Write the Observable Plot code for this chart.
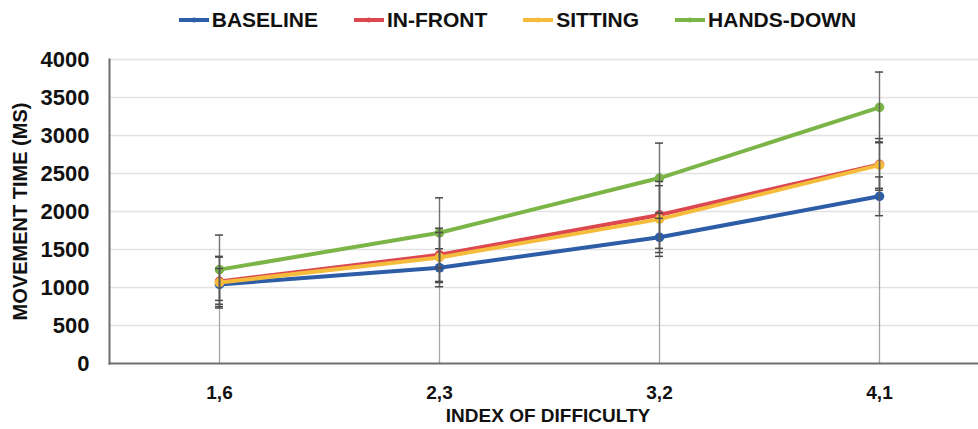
<!DOCTYPE html>
<html>
<head>
<meta charset="utf-8">
<script src="https://cdn.jsdelivr.net/npm/d3@7"></script>
<script src="https://cdn.jsdelivr.net/npm/@observablehq/plot@0.6"></script>
<style>
  body { margin: 0; background: #fff; font-family: "Liberation Sans", Arial, sans-serif; }
  #legend { height: 40px; display: flex; justify-content: center; align-items: center; gap: 35px;
            font-weight: bold; font-size: 21px; color: #111; padding-left: 56px; box-sizing: border-box; width: 978px; }
  .item { display: flex; align-items: center; gap: 2px; }
  svg { display: block; }
</style>
</head>
<body>
<div id="legend"></div>
<div id="chart"></div>
<script>
// ---- data ----
const categories = ["1,6", "2,3", "3,2", "4,1"];
const seriesNames = ["BASELINE", "IN-FRONT", "SITTING", "HANDS-DOWN"];
const seriesColors = ["#2e5da8", "#dc4750", "#f5bc3b", "#7cb547"];

const baseline   = [1040, 1260, 1660, 2200];
const baselineSD = [210, 250, 250, 255];
const inFront    = [1080, 1430, 1955, 2620];
const inFrontSD  = [330, 350, 440, 340];
const sitting    = [1065, 1395, 1900, 2610];
const sittingSD  = [335, 330, 440, 305];
const handsDown  = [1235, 1720, 2440, 3370];
const handsDownSD= [455, 460, 460, 465];

const yTicks = [0, 500, 1000, 1500, 2000, 2500, 3000, 3500, 4000];
const xTitle = "INDEX OF DIFFICULTY";
const yTitle = "MOVEMENT TIME (MS)";

// ---- build table ----
const allMeans = [baseline, inFront, sitting, handsDown];
const allSD = [baselineSD, inFrontSD, sittingSD, handsDownSD];
const rows = [];
seriesNames.forEach((s, si) => {
  categories.forEach((c, ci) => {
    rows.push({series: s, cat: c, value: allMeans[si][ci], sd: allSD[si][ci]});
  });
});
const dropTop = categories.map((c, ci) => ({cat: c, top: d3.max(allMeans, m => m[ci])}));

// ---- legend ----
const legend = document.getElementById("legend");
seriesNames.forEach((s, i) => {
  const it = document.createElement("div");
  it.className = "item";
  it.innerHTML = `<svg width="32" height="12"><line x1="1" y1="6" x2="31" y2="6" stroke="${seriesColors[i]}" stroke-width="4"/><circle cx="16" cy="6" r="2.5" fill="${seriesColors[i]}"/></svg><span>${s}</span>`;
  legend.appendChild(it);
});

// ---- chart ----
const seriesMarks = [];
seriesNames.forEach((s, i) => {
  const data = rows.filter(r => r.series === s);
  seriesMarks.push(Plot.line(data, {x: "cat", y: "value", stroke: seriesColors[i], strokeWidth: 4}));
  seriesMarks.push(Plot.dot(data, {x: "cat", y: "value", fill: seriesColors[i], r: 4.8}));
});

const capInset = 106;
const chart = Plot.plot({
  width: 978,
  height: 389,
  marginLeft: 109,
  marginRight: 0,
  marginTop: 19,
  marginBottom: 66,
  style: {fontFamily: "'Liberation Sans', Arial, sans-serif", fontWeight: "bold", color: "#111", background: "#fff"},
  x: {type: "band", domain: categories, range: [109, 989], padding: 0},
  y: {domain: [0, 4000]},
  marks: [
    Plot.ruleY(yTicks.filter(d => d > 0), {stroke: "#e2e2e2", strokeWidth: 1.5}),
    Plot.ruleX(dropTop, {x: "cat", y1: 0, y2: "top", stroke: "#a6a6a6", strokeWidth: 1.3}),
    ...seriesMarks,
    Plot.ruleX(rows, {x: "cat", y1: d => d.value - d.sd, y2: d => d.value + d.sd, stroke: "#5a5a5a", strokeWidth: 1.4, strokeOpacity: 0.85}),
    Plot.tickY(rows, {x: "cat", y: d => d.value - d.sd, insetLeft: capInset, insetRight: capInset, stroke: "#4a4a4a", strokeWidth: 1.5}),
    Plot.tickY(rows, {x: "cat", y: d => d.value + d.sd, insetLeft: capInset, insetRight: capInset, stroke: "#4a4a4a", strokeWidth: 1.5}),
    Plot.frame({anchor: "left", stroke: "#6e6e6e", strokeWidth: 2}),
    Plot.frame({anchor: "bottom", stroke: "#6e6e6e", strokeWidth: 2}),
    Plot.axisY({ticks: yTicks, tickFormat: d => String(d), tickSize: 0, tickPadding: 20, fontSize: 22, fontWeight: "bold", fill: "#111", label: null}),
    Plot.axisY({ticks: [], label: yTitle, labelAnchor: "center", labelOffset: 97, labelArrow: "none", fontSize: 20, fontWeight: "bold", fill: "#111"}),
    Plot.axisX({tickSize: 0, tickPadding: 22, fontSize: 19, fontWeight: "bold", fill: "#111", label: null}),
    Plot.text([xTitle], {text: d => d, frameAnchor: "bottom", dx: 4, dy: 58, fontSize: 19, fontWeight: "bold", fill: "#111"})
  ]
});
document.getElementById("chart").appendChild(chart);
</script>
</body>
</html>
